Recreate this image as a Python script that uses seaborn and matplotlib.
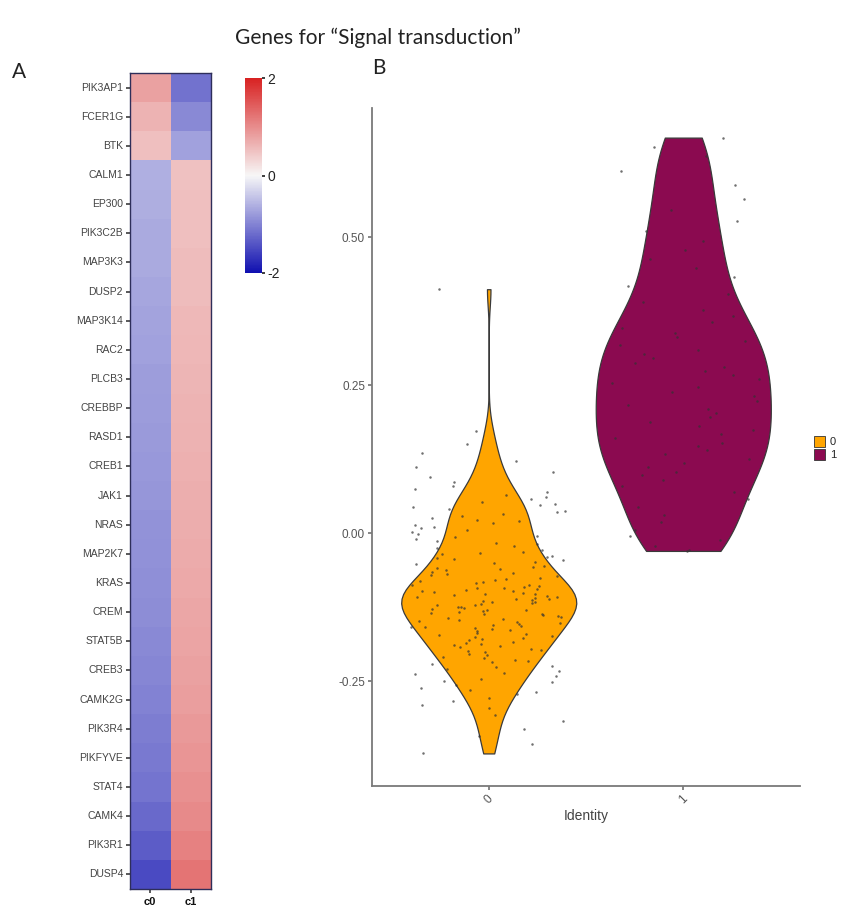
import numpy as np
import pandas as pd
import matplotlib
matplotlib.use("Agg")
import matplotlib.pyplot as plt
from matplotlib.colors import LinearSegmentedColormap
from matplotlib.patches import Patch
import seaborn as sns

# ---------------- data ----------------
genes = ["PIK3AP1", "FCER1G", "BTK", "CALM1", "EP300", "PIK3C2B", "MAP3K3",
         "DUSP2", "MAP3K14", "RAC2", "PLCB3", "CREBBP", "RASD1", "CREB1",
         "JAK1", "NRAS", "MAP2K7", "KRAS", "CREM", "STAT5B", "CREB3",
         "CAMK2G", "PIK3R4", "PIKFYVE", "STAT4", "CAMK4", "PIK3R1", "DUSP4"]
clusters = ["c0", "c1"]
c0_scores = [0.80, 0.64, 0.52, -0.62, -0.64, -0.66, -0.67, -0.70, -0.72,
             -0.74, -0.77, -0.79, -0.81, -0.82, -0.84, -0.86, -0.88, -0.90,
             -0.92, -0.94, -0.97, -1.01, -1.05, -1.09, -1.14, -1.22, -1.33,
             -1.50]
c1_scores = [-1.15, -0.95, -0.74, 0.50, 0.52, 0.53, 0.55, 0.56, 0.58, 0.60,
             0.61, 0.63, 0.65, 0.66, 0.68, 0.70, 0.71, 0.73, 0.75, 0.77, 0.80,
             0.84, 0.88, 0.92, 0.96, 1.02, 1.10, 1.22]

identities = ["0", "1"]
ident0_scores = [
    -0.372, -0.356, -0.343, -0.331, -0.318, -0.307, -0.296, -0.291,
    -0.284, -0.279, -0.272, -0.268, -0.265,
    -0.261, -0.257, -0.252, -0.249, -0.246, -0.241, -0.238,
    -0.236, -0.233, -0.229, -0.226, -0.224, -0.221, -0.218, -0.216, -0.214,
    -0.211, -0.209, -0.206, -0.204, -0.201, -0.199, -0.197, -0.195, -0.193,
    -0.191, -0.189,
    -0.187, -0.185, -0.183, -0.181, -0.179, -0.177, -0.176, -0.174, -0.172,
    -0.170, -0.168, -0.166, -0.164,
    -0.162, -0.161, -0.159, -0.158, -0.156, -0.155, -0.153, -0.152, -0.150,
    -0.148, -0.147, -0.145, -0.143, -0.142, -0.140, -0.138,
    -0.137, -0.136, -0.134, -0.133, -0.132, -0.130, -0.129, -0.128, -0.126,
    -0.125, -0.124, -0.122, -0.121, -0.120, -0.118, -0.117, -0.116, -0.114,
    -0.113,
    -0.112, -0.111, -0.109, -0.108, -0.107, -0.106, -0.104, -0.103, -0.102,
    -0.101, -0.099, -0.098, -0.097, -0.096, -0.094, -0.093, -0.092, -0.091,
    -0.089, -0.088,
    -0.087, -0.085, -0.083, -0.081, -0.079, -0.077, -0.075, -0.073, -0.071,
    -0.069, -0.067, -0.065, -0.063, -0.061, -0.059,
    -0.057, -0.055, -0.052, -0.050, -0.048, -0.046, -0.044, -0.042, -0.040,
    -0.038, -0.036, -0.034,
    -0.031, -0.028, -0.025, -0.022, -0.019, -0.016, -0.013, -0.010, -0.007,
    -0.004,
    -0.001, 0.002, 0.005, 0.008, 0.011, 0.014, 0.017, 0.020, 0.023,
    0.026, 0.029, 0.032, 0.035, 0.038, 0.041, 0.044, 0.047, 0.050,
    0.053, 0.057, 0.061, 0.065, 0.069, 0.074, 0.080,
    0.087, 0.094, 0.103, 0.112,
    0.122, 0.135, 0.151, 0.172, 0.412]
ident1_scores = [
    -0.030, -0.028, -0.021, -0.012, -0.004,
    0.006, 0.018, 0.031, 0.044,
    0.058, 0.069, 0.080, 0.090, 0.099,
    0.104, 0.111, 0.118, 0.126, 0.133, 0.141, 0.147,
    0.153, 0.160, 0.167, 0.174, 0.181, 0.188, 0.196,
    0.203, 0.210, 0.217, 0.224, 0.231, 0.238, 0.246,
    0.253, 0.260, 0.267, 0.274, 0.281, 0.288, 0.296,
    0.303, 0.310, 0.317, 0.324, 0.331, 0.338, 0.346,
    0.356, 0.366, 0.377, 0.390,
    0.404, 0.418, 0.433, 0.448,
    0.463, 0.478, 0.493,
    0.510, 0.527, 0.545,
    0.565, 0.588,
    0.612, 0.637, 0.652, 0.668]

ident_colors = ["#FFA500", "#8B0A50"]

# ---------------- figure ----------------
sns.set_theme(style="white")
plt.rcParams["font.family"] = ["Liberation Sans", "DejaVu Sans"]
plt.rcParams["axes.unicode_minus"] = False

W, H = 841, 910
fig = plt.figure(figsize=(W / 100, H / 100), dpi=100)


def px_axes(x0, y0, x1, y1):
    return fig.add_axes([x0 / W, 1 - y1 / H, (x1 - x0) / W, (y1 - y0) / H])


# heatmap panel
heat_df = pd.DataFrame({"c0": c0_scores, "c1": c1_scores}, index=genes)[clusters]
cmap = LinearSegmentedColormap.from_list(
    "bwr_soft", ["#1010b0", "#f7f7f7", "#d82222"])
ax_h = px_axes(130, 73, 211, 889)
ax_cb = px_axes(245, 78, 262, 273)
sns.heatmap(heat_df, ax=ax_h, cmap=cmap, vmin=-2, vmax=2,
            cbar_ax=ax_cb, cbar_kws={"ticks": [-2, 0, 2]})
ax_h.tick_params(axis="y", labelsize=7.5, labelcolor="#444444", length=3,
                 color="#444444", left=True, rotation=0, pad=2)
ax_h.tick_params(axis="x", labelsize=8, labelcolor="#111111", length=3,
                 color="#444444", bottom=True, rotation=0, pad=3)
for lbl in ax_h.get_xticklabels():
    lbl.set_fontweight("bold")
ax_h.set_xlabel("")
ax_h.set_ylabel("")
for side in ["top", "left", "right", "bottom"]:
    ax_h.spines[side].set_visible(True)
    ax_h.spines[side].set_color("#2e2e5a")
    ax_h.spines[side].set_linewidth(1.0)

cb = ax_h.collections[0].colorbar
cb.outline.set_visible(False)
ax_cb.tick_params(labelsize=10, labelcolor="#222222", length=2, pad=2)

# violin panel
vdf = pd.DataFrame({
    "ident": ["0"] * len(ident0_scores) + ["1"] * len(ident1_scores),
    "value": ident0_scores + ident1_scores,
})
ax_v = px_axes(372, 108, 800, 786)
sns.violinplot(data=vdf, x="ident", y="value", hue="ident", order=identities,
               hue_order=identities, palette=ident_colors, cut=0,
               density_norm="width", inner=None, width=0.9, linewidth=0.9,
               linecolor="#3a3a3a", legend=False, ax=ax_v, saturation=1,
               bw_adjust=0.7)
np.random.seed(7)
sns.stripplot(data=vdf, x="ident", y="value", order=identities, jitter=0.4,
              size=1.8, color="#333333", alpha=0.7, ax=ax_v, zorder=3)
ax_v.set_xlim(-0.6, 1.6)
ax_v.set_ylim(-0.427, 0.718)
ax_v.set_yticks([-0.25, 0.0, 0.25, 0.50])
ax_v.set_yticklabels(["-0.25", "0.00", "0.25", "0.50"])
ax_v.set_xlabel("Identity", fontsize=10, color="#444444", labelpad=2)
ax_v.set_ylabel("")
ax_v.tick_params(axis="y", labelsize=8.5, labelcolor="#555555", length=3,
                 color="#777777", left=True, pad=2)
ax_v.tick_params(axis="x", labelsize=8.5, labelcolor="#555555", length=3,
                 color="#777777", bottom=True, pad=2)
for lbl in ax_v.get_xticklabels():
    lbl.set_rotation(45)
    lbl.set_ha("center")
for side in ["top", "right"]:
    ax_v.spines[side].set_visible(False)
for side in ["left", "bottom"]:
    ax_v.spines[side].set_color("#7a7a7a")
    ax_v.spines[side].set_linewidth(1.3)

handles = [Patch(facecolor=c, edgecolor="#333333", linewidth=0.6)
           for c in ident_colors]
fig.legend(handles, identities, loc="center left",
           bbox_to_anchor=(811 / W, 1 - 448 / H), frameon=False,
           handlelength=1.0, handleheight=1.2, handletextpad=0.4,
           labelspacing=0.1, fontsize=8, borderaxespad=0.0,
           borderpad=0.3)

# titles and panel letters
fig.text(378 / W, 1 - 38 / H, "Genes for \u201cSignal transduction\u201d",
         ha="center", va="center", fontsize=15, family=["Lato", "DejaVu Sans"],
         color="#222222")
fig.text(12 / W, 1 - 72 / H, "A", ha="left", va="center", fontsize=15,
         family=["Lato", "DejaVu Sans"], color="#222222")
fig.text(372 / W, 1 - 68 / H, "B", ha="left", va="center", fontsize=15,
         family=["Lato", "DejaVu Sans"], color="#222222")

fig.savefig("out.png", dpi=100)
